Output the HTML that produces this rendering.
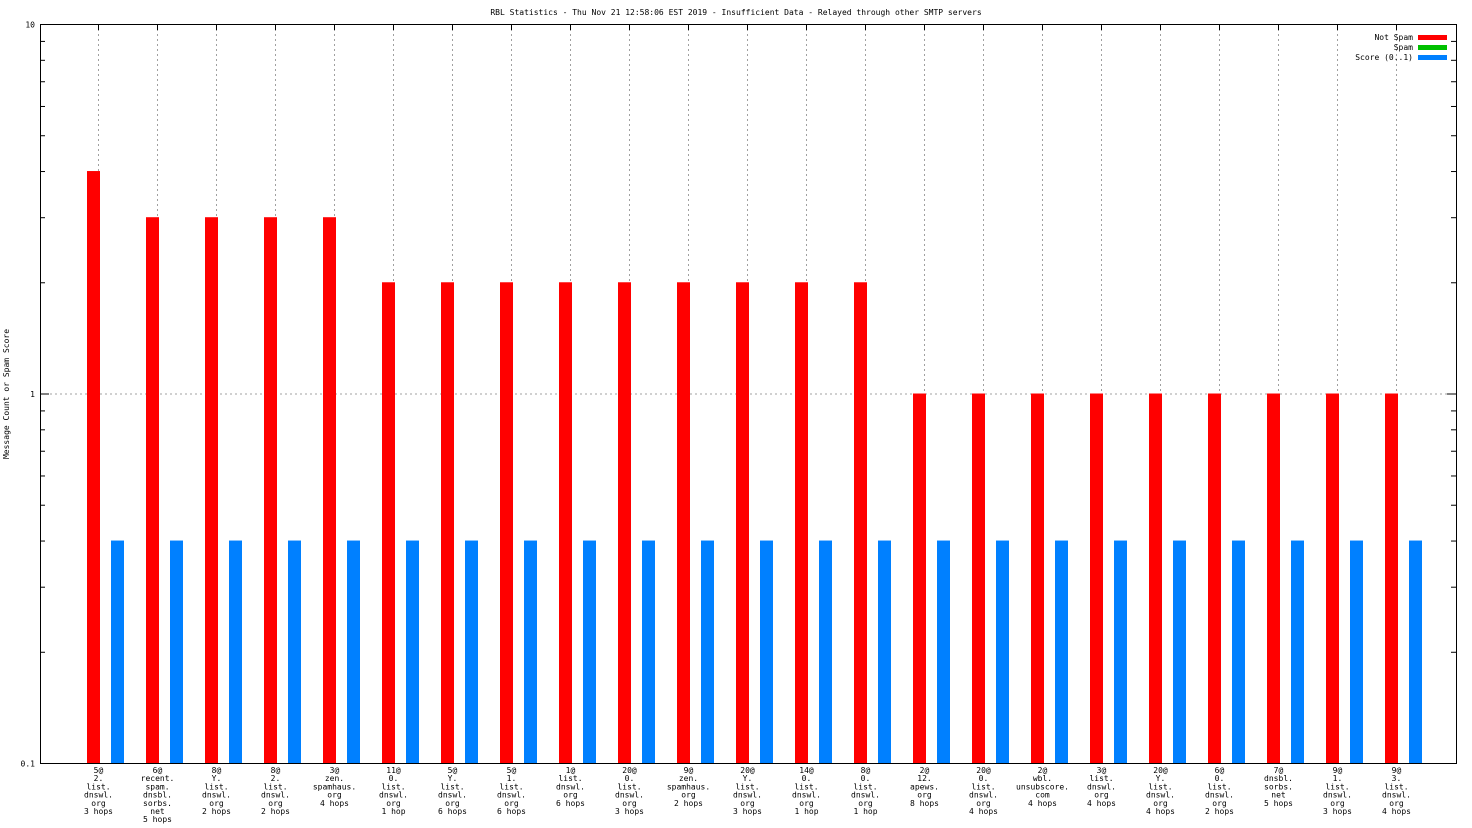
<!DOCTYPE html>
<html><head><meta charset="utf-8"><style>
html,body{margin:0;padding:0;background:#fff}
svg{display:block;font-family:"DejaVu Sans Mono","Liberation Mono",monospace}
</style></head><body>
<svg id="chart" width="1472" height="828" viewBox="0 0 1472 828" xmlns="http://www.w3.org/2000/svg">
<rect width="1472" height="828" fill="#fff"/>
<text x="736" y="15" font-size="8" text-anchor="middle">RBL Statistics - Thu Nov 21 12:58:06 EST 2019 - Insufficient Data - Relayed through other SMTP servers</text>
<text transform="translate(9,394) rotate(-90)" font-size="8" text-anchor="middle">Message Count or Spam Score</text>
<g id="grid"></g><g id="bars"></g><g id="axes"></g><g id="labels"></g>
<g font-size="8">
<text x="1413" y="40" text-anchor="end">Not Spam</text><rect x="1418" y="35" width="29" height="5" fill="#ff0000"/>
<text x="1413" y="50" text-anchor="end">Spam</text><rect x="1418" y="45" width="29" height="5" fill="#00c000"/>
<text x="1413" y="60" text-anchor="end">Score (0..1)</text><rect x="1418" y="55" width="29" height="5" fill="#0080ff"/>
</g>
</svg>
<script>
const categories=[
["5@","2.","list.","dnswl.","org","3 hops"],["6@","recent.","spam.","dnsbl.","sorbs.","net","5 hops"],
["8@","Y.","list.","dnswl.","org","2 hops"],["8@","2.","list.","dnswl.","org","2 hops"],
["3@","zen.","spamhaus.","org","4 hops"],["11@","0.","list.","dnswl.","org","1 hop"],
["5@","Y.","list.","dnswl.","org","6 hops"],["5@","1.","list.","dnswl.","org","6 hops"],
["1@","list.","dnswl.","org","6 hops"],["20@","0.","list.","dnswl.","org","3 hops"],
["9@","zen.","spamhaus.","org","2 hops"],["20@","Y.","list.","dnswl.","org","3 hops"],
["14@","0.","list.","dnswl.","org","1 hop"],["8@","0.","list.","dnswl.","org","1 hop"],
["2@","12.","apews.","org","8 hops"],["20@","0.","list.","dnswl.","org","4 hops"],
["2@","wbl.","unsubscore.","com","4 hops"],["3@","list.","dnswl.","org","4 hops"],
["20@","Y.","list.","dnswl.","org","4 hops"],["6@","0.","list.","dnswl.","org","2 hops"],
["7@","dnsbl.","sorbs.","net","5 hops"],["9@","1.","list.","dnswl.","org","3 hops"],
["9@","3.","list.","dnswl.","org","4 hops"]];
const notSpam=[4,3,3,3,3,2,2,2,2,2,2,2,2,2,1,1,1,1,1,1,1,1,1];
const spam=[0,0,0,0,0,0,0,0,0,0,0,0,0,0,0,0,0,0,0,0,0,0,0];
const score=[0.4,0.4,0.4,0.4,0.4,0.4,0.4,0.4,0.4,0.4,0.4,0.4,0.4,0.4,0.4,0.4,0.4,0.4,0.4,0.4,0.4,0.4,0.4];
const yTicks=[0.1,1,10];
const yTickLabels=["0.1","1","10"];
const NS="http://www.w3.org/2000/svg";
const L=40,R=1456,T=24,B=763;
const yScale=v=>B-(Math.log10(v)+1)/2*(B-T);
const xScale=i=>98+i*59;
function mk(tag,attrs,parent){const e=document.createElementNS(NS,tag);for(const k in attrs)e.setAttribute(k,attrs[k]);parent.appendChild(e);return e;}
const grid=document.getElementById('grid'),bars=document.getElementById('bars'),axes=document.getElementById('axes'),labels=document.getElementById('labels');
categories.forEach((c,i)=>{
 const x=xScale(i);
 const gl=mk('line',{x1:x+0.5,x2:x+0.5,y1:T,y2:B,stroke:'#a0a0a0','stroke-dasharray':'2,3','stroke-width':1},grid);
 
 
 const tk=mk('line',{x1:x+0.5,x2:x+0.5,y1:T,y2:T+6,stroke:'#000'},axes);
 
 
 if(notSpam[i]>0){const r=mk('rect',{x:x-11,y:yScale(notSpam[i]),width:13,height:B-yScale(notSpam[i]),fill:'#ff0000'},bars);
 
 }
 if(spam[i]>0){const r=mk('rect',{x:x+1,y:yScale(spam[i]),width:12,height:B-yScale(spam[i]),fill:'#00c000'},bars);
 
 }
 if(score[i]>0){const r=mk('rect',{x:x+13,y:yScale(score[i]),width:13,height:B-yScale(score[i]),fill:'#0080ff'},bars);
 
 }
 const t=mk('text',{x:x+0.5,'font-size':8,'text-anchor':'middle'},labels);
 
 
 c.forEach((ln,j)=>{const s=mk('tspan',{x:x+0.5,y:773+j*8.2},t);s.textContent=ln;});
});
// horizontal grid at 1
const hg=mk('line',{x1:L,x2:R,y1:yScale(1)+0.5,y2:yScale(1)+0.5,stroke:'#a0a0a0','stroke-dasharray':'2,3'},grid);


yTicks.forEach((v,i)=>{
 const y=yScale(v)+0.5;
 mk('line',{x1:L,x2:L+9,y1:y,y2:y,stroke:'#000'},axes);
 mk('line',{x1:R-9,x2:R,y1:y,y2:y,stroke:'#000'},axes);
 const t=mk('text',{x:L-5,y:y+3,'font-size':8,'text-anchor':'end'},labels);
 
 
 t.textContent=yTickLabels[i];
 if(i<yTicks.length-1){for(let m=2;m<=9;m++){const yy=yScale(v*m)+0.5;
  mk('line',{x1:L,x2:L+5,y1:yy,y2:yy,stroke:'#000'},axes);
  mk('line',{x1:R-5,x2:R,y1:yy,y2:yy,stroke:'#000'},axes);}}
});
const frame=mk('rect',{x:L+0.5,y:T+0.5,width:R-L,height:B-T,fill:'none',stroke:'#000'},axes);


</script>
</body></html>
